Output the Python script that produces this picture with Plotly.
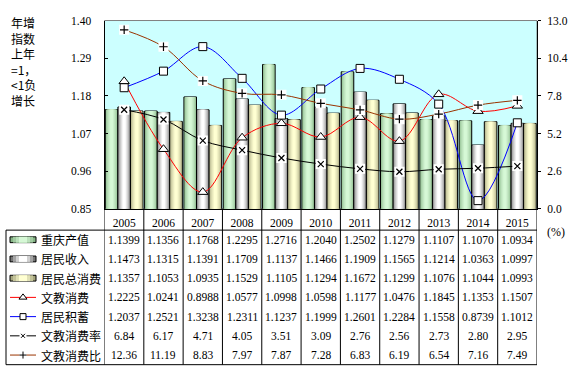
import plotly.graph_objects as go

years = ["2005", "2006", "2007", "2008", "2009", "2010", "2011", "2012", "2013", "2014", "2015"]
gdp = [1.1399, 1.1356, 1.1768, 1.2295, 1.2716, 1.2040, 1.2502, 1.1279, 1.1107, 1.1070, 1.0934]
income = [1.1473, 1.1315, 1.1391, 1.1709, 1.1137, 1.1466, 1.1909, 1.1565, 1.1214, 1.0363, 1.0997]
consume = [1.1357, 1.1053, 1.0935, 1.1529, 1.1105, 1.1294, 1.1672, 1.1299, 1.1076, 1.1044, 1.0993]
edu = [1.2225, 1.0241, 0.8988, 1.0577, 1.0998, 1.0598, 1.1177, 1.0476, 1.1845, 1.1353, 1.1507]
savings = [1.2037, 1.2521, 1.3238, 1.2311, 1.1237, 1.1999, 1.2601, 1.2284, 1.1558, 0.8739, 1.1012]
edu_rate = [6.84, 6.17, 4.71, 4.05, 3.51, 3.09, 2.76, 2.56, 2.73, 2.80, 2.95]
edu_ratio = [12.36, 11.19, 8.83, 7.97, 7.87, 7.28, 6.83, 6.19, 6.54, 7.16, 7.49]

bar_names = ["重庆产值", "居民收入", "居民总消费"]
line_names = ["文教消费", "居民积蓄", "文教消费率", "文教消费比"]
left_ticks = [0.85, 0.96, 1.07, 1.18, 1.29, 1.40]
right_ticks = [0.0, 2.6, 5.2, 7.8, 10.4, 13.0]

W, H = 576, 376
def px(x): return x / W
def py(y): return 1 - y / H

PL, PR, PT, PB = 104.5, 537, 15, 209.5
TBL_TOP, TBL_BOT, TBL_LEFT = 231.5, 370.5, 6
ROW_H = (TBL_BOT - TBL_TOP) / 7
row_c = [TBL_TOP + ROW_H * (r + 0.5) for r in range(7)]

SERIF = "Liberation Serif, Times New Roman, serif"
CJK = "Noto Sans CJK SC, sans-serif"

def hex2rgb(h):
    h = h.lstrip("#")
    return tuple(int(h[i:i + 2], 16) for i in (0, 2, 4))

def mix(a, b, t):
    ra, rb = hex2rgb(a), hex2rgb(b)
    return "rgb(%d,%d,%d)" % tuple(round(ra[i] + (rb[i] - ra[i]) * t) for i in range(3))

grad = [("#86b486", "#d6f8d6"), ("#767676", "#ffffff"), ("#a6a67e", "#ffffd2")]
NL = 7
BW = 0.32

fig = go.Figure()
xs = list(range(len(years)))

for s, vals in enumerate([gdp, income, consume]):
    edge, center = grad[s]
    for k in range(NL):
        frac = 1 - 0.78 * k / (NL - 1)
        t = (k / (NL - 1)) ** 0.6
        w = BW * frac
        off = -0.48 + s * BW + (BW - w) / 2
        fig.add_trace(go.Bar(
            x=xs, y=vals, width=w, offset=off, base=0,
            marker=dict(color=mix(edge, center, t),
                        line=dict(color="black", width=1 if k == 0 else 0)),
            showlegend=False, hoverinfo="skip", yaxis="y", xaxis="x"))

# left axis lines
fig.add_trace(go.Scatter(x=xs, y=edu, mode="lines", line=dict(color="red", width=1, shape="spline", smoothing=1),
                         showlegend=False, hoverinfo="skip"))
fig.add_trace(go.Scatter(x=xs, y=savings, mode="lines", line=dict(color="blue", width=1, shape="spline", smoothing=1),
                         showlegend=False, hoverinfo="skip"))
fig.add_trace(go.Scatter(x=xs, y=edu, mode="markers",
                         marker=dict(symbol="triangle-up", size=9, color="white", line=dict(color="black", width=1)),
                         showlegend=False, hoverinfo="skip"))
fig.add_trace(go.Scatter(x=xs, y=savings, mode="markers",
                         marker=dict(symbol="square", size=8, color="white", line=dict(color="black", width=1)),
                         showlegend=False, hoverinfo="skip"))

# right axis lines
fig.add_trace(go.Scatter(x=xs, y=edu_rate, mode="lines", yaxis="y2",
                         line=dict(color="black", width=1, shape="spline", smoothing=1), showlegend=False, hoverinfo="skip"))
fig.add_trace(go.Scatter(x=xs, y=edu_ratio, mode="lines", yaxis="y2",
                         line=dict(color="#993300", width=1, shape="spline", smoothing=1), showlegend=False, hoverinfo="skip"))
for vals, sym in [(edu_rate, "x-thin-open"), (edu_ratio, "cross-thin-open")]:
    fig.add_trace(go.Scatter(x=xs, y=vals, mode="markers", yaxis="y2",
                             marker=dict(symbol="square", size=10, color="white", line=dict(width=0)),
                             showlegend=False, hoverinfo="skip"))
    fig.add_trace(go.Scatter(x=xs, y=vals, mode="markers", yaxis="y2",
                             marker=dict(symbol=sym, size=6, color="black", line=dict(color="black", width=1.2)),
                             showlegend=False, hoverinfo="skip"))

# legend symbols in the table (pixel overlay axes)
line_cols = ["red", "blue", "black", "#993300"]
leg_syms = [("triangle-up", 7, "white"), ("square", 6, "white"), ("x-thin-open", 4, "black"), ("cross-thin-open", 5, "black")]
for j in range(4):
    yy = row_c[3 + j]
    fig.add_trace(go.Scatter(x=[10, 36], y=[yy, yy], mode="lines", xaxis="x3", yaxis="y3",
                             line=dict(color=line_cols[j], width=1), showlegend=False, hoverinfo="skip"))
    sym, sz, col = leg_syms[j]
    if j >= 2:
        fig.add_trace(go.Scatter(x=[23], y=[yy], mode="markers", xaxis="x3", yaxis="y3",
                                 marker=dict(symbol="square", size=7, color="white", line=dict(width=0)),
                                 showlegend=False, hoverinfo="skip"))
    fig.add_trace(go.Scatter(x=[23], y=[yy], mode="markers", xaxis="x3", yaxis="y3",
                             marker=dict(symbol=sym, size=sz, color=col, line=dict(color="black", width=1)),
                             showlegend=False, hoverinfo="skip"))

shapes = []
# plot background
shapes.append(dict(type="rect", xref="x domain", yref="y domain", x0=0, x1=1, y0=0, y1=1,
                   fillcolor="#ccffff", line=dict(color="#808080", width=1), layer="below"))
# table grid
for i in range(-1, len(years)):
    xb = i + 0.5
    shapes.append(dict(type="line", xref="x", yref="paper", x0=xb, x1=xb, y0=py(PB), y1=py(TBL_BOT),
                       line=dict(color="black", width=1)))
shapes.append(dict(type="line", xref="paper", yref="paper", x0=px(TBL_LEFT), x1=px(PR), y0=py(TBL_TOP), y1=py(TBL_TOP),
                   line=dict(color="black", width=1)))
shapes.append(dict(type="line", xref="paper", yref="paper", x0=px(TBL_LEFT), x1=px(PR), y0=py(TBL_BOT), y1=py(TBL_BOT),
                   line=dict(color="black", width=1)))
shapes.append(dict(type="line", xref="paper", yref="paper", x0=px(TBL_LEFT), x1=px(TBL_LEFT), y0=py(TBL_TOP), y1=py(TBL_BOT),
                   line=dict(color="black", width=1)))
# bar swatches in legend column
for s in range(3):
    edge, center = grad[s]
    yc = row_c[s]
    for k in range(4):
        inset = k * 3
        t = k / 3
        shapes.append(dict(type="rect", xref="paper", yref="paper",
                           x0=px(10 + inset), x1=px(36 - inset), y0=py(yc + 3), y1=py(yc - 3),
                           fillcolor=mix(edge, center, t),
                           line=dict(color="black", width=1 if k == 0 else 0)))

annotations = []
annotations.append(dict(text="年增<br>指数<br>上年<br>=1，<br>&lt;1负<br>增长", x=px(9), y=py(6), xref="paper", yref="paper",
                        xanchor="left", yanchor="top", align="left", showarrow=False,
                        font=dict(family=CJK, size=12, color="black")))
annotations.append(dict(text="(%)", x=px(556), y=py(233), xref="paper", yref="paper", xanchor="center", yanchor="middle",
                        showarrow=False, font=dict(family=SERIF, size=12, color="black")))
all_names = bar_names + line_names
for r, name in enumerate(all_names):
    annotations.append(dict(text=name, x=px(39), y=py(row_c[r]), xref="paper", yref="paper", xanchor="left",
                            yanchor="middle", showarrow=False, font=dict(family=CJK, size=12, color="black")))
rows = [gdp, income, consume, edu, savings, edu_rate, edu_ratio]
for r, vals in enumerate(rows):
    fmt = "{:.4f}" if r < 5 else "{:.2f}"
    for i, v in enumerate(vals):
        annotations.append(dict(text=fmt.format(v), x=i, y=py(row_c[r]), xref="x", yref="paper",
                                xanchor="center", yanchor="middle", showarrow=False,
                                font=dict(family=SERIF, size=11.5, color="black")))

fig.update_layout(
    width=W, height=H, margin=dict(l=0, r=0, t=0, b=0),
    paper_bgcolor="white", plot_bgcolor="rgba(0,0,0,0)",
    barmode="overlay", showlegend=False,
    xaxis=dict(domain=[px(PL), px(PR)], range=[-0.5, len(years) - 0.5], tickvals=xs, ticktext=years,
               showline=True, linecolor="black", linewidth=1, ticks="", showgrid=False, zeroline=False,
               tickfont=dict(family=SERIF, size=11.5, color="black"), ticklabelstandoff=3, fixedrange=True),
    yaxis=dict(domain=[py(PB), py(PT)], range=[0.85, 1.40], tickvals=left_ticks,
               ticktext=["%.2f" % v for v in left_ticks], showline=True, linecolor="black", linewidth=1,
               ticks="inside", ticklen=3, tickcolor="black", showgrid=False, zeroline=False,
               tickfont=dict(family=SERIF, size=11.5, color="black"), ticklabelstandoff=10, fixedrange=True),
    yaxis2=dict(overlaying="y", side="right", range=[0, 13], tickvals=right_ticks,
                ticktext=["%.1f" % v for v in right_ticks], showline=True, linecolor="black", linewidth=1,
                ticks="outside", ticklen=3, tickcolor="black", showgrid=False, zeroline=False,
                tickfont=dict(family=SERIF, size=11.5, color="black"), ticklabelstandoff=4, fixedrange=True),
    xaxis3=dict(domain=[0, 1], range=[0, W], visible=False, anchor="y3", fixedrange=True),
    yaxis3=dict(domain=[0, 1], range=[H, 0], visible=False, anchor="x3", fixedrange=True),
    shapes=shapes, annotations=annotations,
)

fig.write_html("out.html", config={"displayModeBar": False},
               post_script="document.body.style.margin='0';document.body.style.padding='0';"
                           "document.documentElement.style.overflow='hidden';")
